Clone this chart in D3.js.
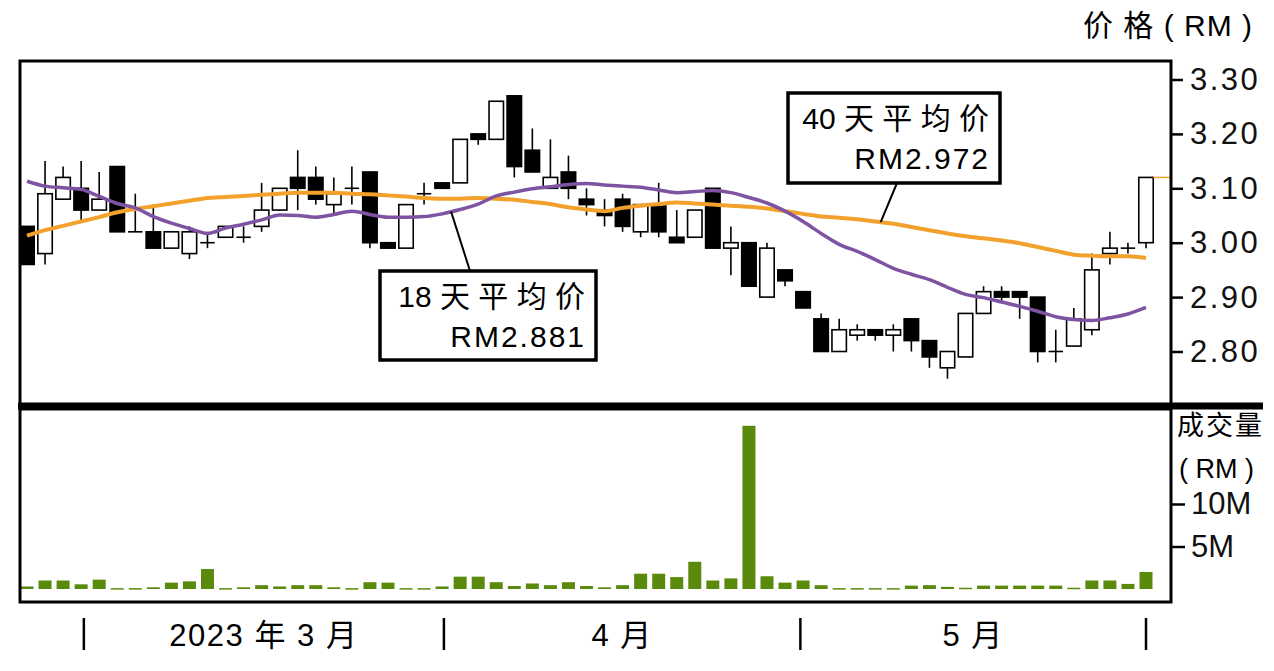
<!DOCTYPE html>
<html lang="zh">
<head>
<meta charset="UTF-8">
<title>价格走势</title>
<style>
  body { margin: 0; background: #fff; }
  svg { display: block; font-family: 'Liberation Sans', 'Noto Sans CJK SC', sans-serif; }
  .tick text { font-size: 31px; fill: #111; letter-spacing: 2.5px; }
  .tick line { stroke: #000; stroke-width: 2.5; }
</style>
</head>
<body>
<div id="chart"></div>
<script src="https://cdn.jsdelivr.net/npm/d3@7/dist/d3.min.js"></script>
<script>
// daily prices (RM), one per trading day
var openP  = [3.03,2.98,3.08,3.10,3.06,3.14,3.02,3.02,2.99,2.98,
              3.00,3.01,3.01,3.03,3.06,3.12,3.12,3.07,3.10,3.13,
              3.00,2.99,3.09,3.11,3.11,3.20,3.19,3.27,3.17,3.10,
              3.13,3.08,3.06,3.08,3.02,3.07,3.01,3.01,3.10,2.99,
              3.00,2.90,2.95,2.91,2.86,2.80,2.83,2.84,2.83,2.86,
              2.82,2.77,2.79,2.87,2.91,2.91,2.90,2.80,2.81,2.84,
              2.98,2.99,3.00];
var highP  = [3.03,3.15,3.14,3.15,3.13,3.14,3.09,3.07,3.02,3.03,
              3.02,3.03,3.03,3.11,3.10,3.17,3.14,3.12,3.14,3.13,
              3.00,3.07,3.11,3.11,3.19,3.20,3.26,3.27,3.21,3.19,
              3.16,3.10,3.08,3.09,3.07,3.11,3.06,3.06,3.10,3.03,
              3.00,3.00,2.95,2.91,2.87,2.86,2.85,2.84,2.85,2.86,
              2.82,2.80,2.87,2.92,2.92,2.91,2.90,2.84,2.88,2.98,
              3.02,3.00,3.12];
var lowP   = [2.96,2.96,3.08,3.04,3.06,3.02,3.02,2.99,2.99,2.97,
              2.99,3.01,3.00,3.02,3.06,3.06,3.07,3.05,3.07,2.99,
              2.99,2.99,3.07,3.10,3.11,3.18,3.19,3.12,3.13,3.10,
              3.08,3.05,3.03,3.02,3.01,3.01,3.00,3.01,2.99,2.94,
              2.92,2.90,2.92,2.88,2.80,2.80,2.82,2.82,2.80,2.80,
              2.77,2.75,2.79,2.87,2.89,2.86,2.78,2.78,2.81,2.83,
              2.96,2.98,2.99];
var closeP = [2.96,3.09,3.12,3.06,3.08,3.02,3.02,2.99,3.02,3.02,
              3.00,3.03,3.01,3.06,3.10,3.10,3.08,3.09,3.10,3.00,
              2.99,3.07,3.09,3.10,3.19,3.19,3.26,3.14,3.13,3.12,
              3.10,3.07,3.05,3.03,3.07,3.02,3.00,3.06,2.99,3.00,
              2.92,2.99,2.93,2.88,2.80,2.84,2.84,2.83,2.84,2.82,
              2.79,2.80,2.87,2.91,2.90,2.90,2.80,2.80,2.86,2.95,
              2.99,2.99,3.12];

// traded value, RM million
var volumeM = [0.3,1.0,1.0,0.55,1.1,0.1,0.1,0.2,0.75,0.9,
               2.35,0.1,0.2,0.45,0.3,0.45,0.45,0.2,0.1,0.8,
               0.75,0.1,0.1,0.3,1.45,1.45,0.8,0.35,0.65,0.45,
               0.8,0.35,0.2,0.45,1.8,1.8,1.4,3.2,1.0,1.25,
               19.2,1.5,0.75,1.0,0.45,0.1,0.1,0.1,0.1,0.4,
               0.45,0.25,0.15,0.4,0.4,0.4,0.4,0.4,0.15,1.0,
               1.0,0.6,2.0];

// moving averages
var ma18 = [3.113,3.104,3.101,3.098,3.085,3.072,3.064,3.048,3.036,3.026,
            3.017,3.027,3.034,3.042,3.051,3.050,3.047,3.052,3.058,3.052,
            3.047,3.047,3.048,3.053,3.061,3.071,3.086,3.093,3.099,3.103,
            3.107,3.109,3.106,3.104,3.102,3.097,3.092,3.094,3.096,3.092,
            3.083,3.073,3.058,3.039,3.017,2.997,2.984,2.969,2.953,2.942,
            2.932,2.918,2.905,2.899,2.891,2.883,2.874,2.864,2.859,2.857,
            2.862,2.869,2.881];
var ma40 = [3.013,3.023,3.031,3.039,3.047,3.056,3.062,3.067,3.072,3.077,
            3.082,3.084,3.086,3.088,3.090,3.092,3.092,3.092,3.090,3.089,
            3.087,3.085,3.082,3.081,3.081,3.082,3.081,3.079,3.075,3.071,
            3.065,3.061,3.058,3.064,3.068,3.071,3.074,3.072,3.070,3.068,
            3.066,3.063,3.058,3.053,3.048,3.046,3.043,3.039,3.035,3.029,
            3.023,3.017,3.012,3.008,3.004,2.999,2.992,2.985,2.978,2.976,
            2.975,2.975,2.972];

var priceTicks = [2.8, 2.9, 3.0, 3.1, 3.2, 3.3];
var volTicks = [5, 10];
var monthBreaks = [3.15, 23.1, 42.85, 62];   // day index where a month starts
var monthLabels = ["2023 年 3 月", "4 月", "5 月"];

var W = 1274, H = 671;
var left = 20, axisX = 1171;
var pTop = 61, pBot = 405, vTop = 409, vBot = 602;
var orange = "#f2a12c", purple = "#7e53a2", green = "#5a8a0c";

var svg = d3.select("#chart").append("svg")
    .attr("width", W)
    .attr("height", H);

svg.append("rect").attr("width", W).attr("height", H).attr("fill", "#fff");

var x = d3.scaleLinear().domain([0, openP.length - 1]).range([27, 1146]);
var step = x(1) - x(0);
var bodyW = step * 0.8;
var y = d3.scaleLinear().domain([2.8, 3.3]).range([351.5, 79.5]);
var yv = d3.scaleLinear().domain([0, 10]).range([589, 504]);

// volume bars
svg.append("g").selectAll("rect")
    .data(volumeM)
    .enter().append("rect")
    .attr("x", function(d, i) { return x(i) - bodyW * 0.45; })
    .attr("width", bodyW * 0.9)
    .attr("y", function(d) { return yv(d); })
    .attr("height", function(d) { return Math.max(1.5, yv(0) - yv(d)); })
    .attr("fill", green);

// candles
var candles = svg.append("g");
openP.forEach(function(o, i) {
    var c = closeP[i], cx = x(i);
    candles.append("line")
        .attr("x1", cx).attr("x2", cx)
        .attr("y1", y(highP[i])).attr("y2", y(lowP[i]))
        .attr("stroke", "#000").attr("stroke-width", 1.6);
    if (o === c) {
        candles.append("line")
            .attr("x1", cx - bodyW / 2).attr("x2", cx + bodyW / 2)
            .attr("y1", y(o)).attr("y2", y(o))
            .attr("stroke", "#000").attr("stroke-width", 1.6);
    } else {
        candles.append("rect")
            .attr("x", cx - bodyW / 2)
            .attr("width", bodyW)
            .attr("y", y(Math.max(o, c)))
            .attr("height", Math.abs(y(o) - y(c)))
            .attr("fill", c < o ? "#000" : "#fff")
            .attr("stroke", "#000").attr("stroke-width", 1.6);
    }
});

// moving average lines
var line = d3.line()
    .x(function(d, i) { return x(i); })
    .y(function(d) { return y(d); })
    .curve(d3.curveMonotoneX);

svg.append("path").datum(ma40)
    .attr("d", line).attr("fill", "none")
    .attr("stroke", orange).attr("stroke-width", 4);
svg.append("path").datum(ma18)
    .attr("d", line).attr("fill", "none")
    .attr("stroke", purple).attr("stroke-width", 3.5);

// last price marker
var last = closeP.length - 1;
svg.append("line")
    .attr("x1", x(last) + bodyW / 2).attr("x2", axisX)
    .attr("y1", y(closeP[last])).attr("y2", y(closeP[last]))
    .attr("stroke", orange).attr("stroke-width", 1.5);

// frames
svg.append("rect")
    .attr("x", left).attr("y", pTop)
    .attr("width", axisX - left).attr("height", pBot - pTop)
    .attr("fill", "none").attr("stroke", "#000").attr("stroke-width", 3);
svg.append("rect")
    .attr("x", left).attr("y", vTop)
    .attr("width", axisX - left).attr("height", vBot - vTop)
    .attr("fill", "none").attr("stroke", "#000").attr("stroke-width", 3);
svg.append("line")
    .attr("x1", 18).attr("x2", 1263)
    .attr("y1", 406).attr("y2", 406)
    .attr("stroke", "#000").attr("stroke-width", 7);

// right axes
svg.append("g")
    .attr("transform", "translate(" + axisX + ",0)")
    .call(d3.axisRight(y).tickValues(priceTicks).tickSize(12).tickPadding(7)
        .tickFormat(d3.format(".2f")))
    .call(function(g) { g.select(".domain").remove(); });

svg.append("g")
    .attr("transform", "translate(" + axisX + ",0)")
    .call(d3.axisRight(yv).tickValues(volTicks).tickSize(14).tickPadding(6)
        .tickFormat(function(d) { return d + "M"; }))
    .call(function(g) { g.select(".domain").remove(); })
    .selectAll("text").style("letter-spacing", "0px");

svg.append("text")
    .attr("x", 1253).attr("y", 36)
    .attr("text-anchor", "end")
    .style("font-size", "30px").style("letter-spacing", "1px")
    .text("价 格 ( RM )");

svg.append("text")
    .attr("x", 1177).attr("y", 435)
    .style("font-size", "27px").style("letter-spacing", "2px")
    .text("成交量");
svg.append("text")
    .attr("x", 1179).attr("y", 478)
    .style("font-size", "27px")
    .text("( RM )");

// month axis
var months = svg.append("g");
monthBreaks.forEach(function(m) {
    months.append("line")
        .attr("x1", x(m)).attr("x2", x(m))
        .attr("y1", 618).attr("y2", 650)
        .attr("stroke", "#000").attr("stroke-width", 2.5);
});
monthLabels.forEach(function(t, i) {
    months.append("text")
        .attr("x", (x(monthBreaks[i]) + x(monthBreaks[i + 1])) / 2)
        .attr("y", 646)
        .attr("text-anchor", "middle")
        .style("font-size", "31px").style("letter-spacing", "1.5px")
        .text(t);
});

// annotation boxes
function maAt(arr, t) {
    var i = Math.floor(t);
    return d3.interpolateNumber(arr[i], arr[i + 1])(t - i);
}

function callout(bx, by, bw, bh, title, value, px, py, idx, arr) {
    svg.append("line")
        .attr("x1", px).attr("y1", py)
        .attr("x2", x(idx)).attr("y2", y(maAt(arr, idx)))
        .attr("stroke", "#000").attr("stroke-width", 2);
    svg.append("rect")
        .attr("x", bx).attr("y", by).attr("width", bw).attr("height", bh)
        .attr("fill", "#fff").attr("stroke", "#000").attr("stroke-width", 3.5);
    svg.append("text")
        .attr("x", bx + bw - 11).attr("y", by + 36)
        .attr("text-anchor", "end")
        .style("font-size", "30px")
        .text(title);
    svg.append("text")
        .attr("x", bx + bw - 10).attr("y", by + 76)
        .attr("text-anchor", "end")
        .style("font-size", "30px").style("letter-spacing", "2px")
        .text("RM" + value.toFixed(3));
}

callout(380, 271, 216, 89, "18 天 平 均 价", ma18[last], 470, 271, 23.5, ma18);
callout(788, 93, 212, 90, "40 天 平 均 价", ma40[last], 897, 183, 47.3, ma40);
</script>
</body>
</html>
